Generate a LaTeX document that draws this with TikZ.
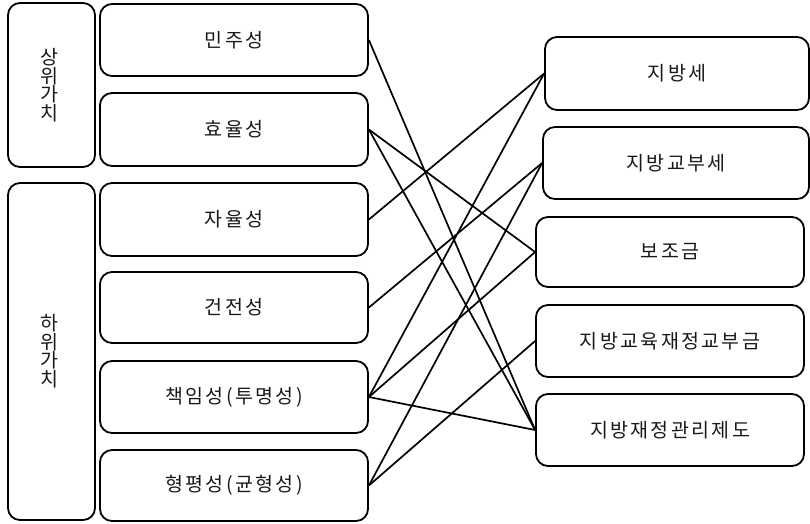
\documentclass[tikz,border=0pt]{standalone}
\usepackage{fontspec}
\newfontfamily\krfont[LetterSpace=12]{Noto Sans CJK KR}
\newfontfamily\krvfont{Noto Sans CJK KR}
\begin{document}
\begin{tikzpicture}[x=1pt,y=-1pt,
  box/.style={draw, line width=1.8pt, rounded corners=12pt, inner sep=0pt,
    font=\krfont\fontsize{19.5}{22}\selectfont, text=black!90},
  catbox/.style={draw, line width=1.8pt, rounded corners=12pt, inner sep=0pt},
  cattext/.style={font=\krvfont\fontsize{19.5}{18.5}\selectfont, align=center, text=black!90},
  link/.style={line width=1.7pt}]
\useasboundingbox (0,0) rectangle (810,523);
\fill[white] (0,0) rectangle (810,523);
% category boxes
\node[catbox, minimum width=87pt, minimum height=164pt] (upper) at (51.5,85) {};
\node[cattext] (uppertxt) at (49,85) {상\\위\\가\\치};
\node[catbox, minimum width=87pt, minimum height=337pt] (lower) at (51.5,351.5) {};
\node[cattext] (lowertxt) at (49,351) {하\\위\\가\\치};
% value boxes
\node[box, minimum width=268pt, minimum height=72pt] (minju) at (234,40) {민주성};
\node[box, minimum width=268pt, minimum height=73pt] (hyoyul) at (234,129.5) {효율성};
\node[box, minimum width=268pt, minimum height=73pt] (jayul) at (234,219.5) {자율성};
\node[box, minimum width=268pt, minimum height=71pt] (geonjeon) at (234,307.5) {건전성};
\node[box, minimum width=268pt, minimum height=72pt] (chaegim) at (234,397) {책임성(투명성)};
\node[box, minimum width=268pt, minimum height=71pt] (hyeongpyeong) at (234,485.5) {형평성(균형성)};
% finance boxes
\node[box, minimum width=264pt, minimum height=73pt] (jibangse) at (677,73.5) {지방세};
\node[box, minimum width=266pt, minimum height=72pt] (gyobuse) at (676,163) {지방교부세};
\node[box, minimum width=268pt, minimum height=70pt] (bojo) at (670,252) {보조금};
\node[box, minimum width=268pt, minimum height=72pt] (gyoyuk) at (670,341) {지방교육재정교부금};
\node[box, minimum width=268pt, minimum height=72pt] (gwanri) at (670,430) {지방재정관리제도};
% connectors
\draw[link] (minju.east) -- (gwanri.west);
\draw[link] (hyoyul.east) -- (bojo.west);
\draw[link] (hyoyul.east) -- (gwanri.west);
\draw[link] (jayul.east) -- (jibangse.west);
\draw[link] (geonjeon.east) -- (gyobuse.west);
\draw[link] (chaegim.east) -- (jibangse.west);
\draw[link] (chaegim.east) -- (bojo.west);
\draw[link] (chaegim.east) -- (gwanri.west);
\draw[link] (hyeongpyeong.east) -- (gyobuse.west);
\draw[link] (hyeongpyeong.east) -- (gyoyuk.west);
\end{tikzpicture}
\end{document}
